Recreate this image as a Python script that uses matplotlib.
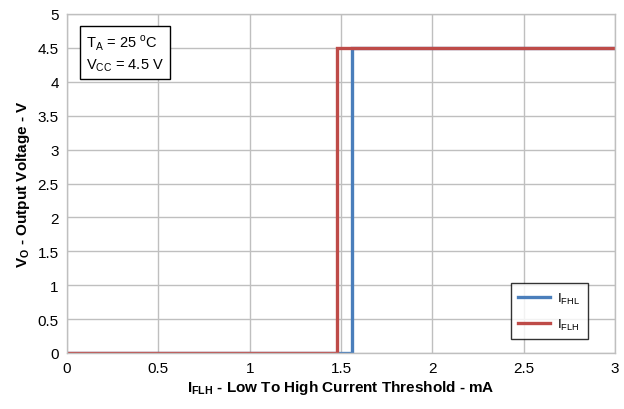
import matplotlib
matplotlib.use("Agg")
import matplotlib.pyplot as plt

# Data
fhl_x = [0, 1.56, 1.56, 3.0]
fhl_y = [0, 0, 4.5, 4.5]
flh_x = [0, 1.48, 1.48, 3.0]
flh_y = [0, 0, 4.5, 4.5]
xticks = [0, 0.5, 1, 1.5, 2, 2.5, 3]
xticklabels = ["0", "0.5", "1", "1.5", "2", "2.5", "3"]
yticks = [0, 0.5, 1, 1.5, 2, 2.5, 3, 3.5, 4, 4.5, 5]
yticklabels = ["0", "0.5", "1", "1.5", "2", "2.5", "3", "3.5", "4", "4.5", "5"]

plt.rcParams['font.family'] = ['Liberation Sans', 'DejaVu Sans']

fig = plt.figure(figsize=(6.24, 4.10), dpi=100)
ax = fig.add_axes([67/624, 1 - 354/410, (615-67)/624, (354-15)/410])

ax.plot(fhl_x, fhl_y, color='#4a7ebb', lw=2.4, label=r'I$_{\mathregular{FHL}}$', solid_joinstyle='miter')
ax.plot(flh_x, flh_y, color='#be4b48', lw=2.4, label=r'I$_{\mathregular{FLH}}$', solid_joinstyle='miter')

ax.set_xlim(0, 3)
ax.set_ylim(0, 5)
ax.set_xticks(xticks)
ax.set_xticklabels(xticklabels)
ax.set_yticks(yticks)
ax.set_yticklabels(yticklabels)
ax.tick_params(length=0, labelsize=11, pad=6)
ax.grid(True, color='#bfbfbf', lw=1)
ax.set_axisbelow(True)
for s in ax.spines.values():
    s.set_color('#bfbfbf')
    s.set_linewidth(1)

ax.set_xlabel(r'I$_{\mathregular{FLH}}$ - Low To High Current Threshold - mA', fontsize=11, fontweight='bold', labelpad=2)
ax.set_ylabel(r'V$_{\mathregular{O}}$ - Output Voltage - V', fontsize=11, fontweight='bold', labelpad=4)

ax.text(0.035, 0.945, 'T$_{\\mathregular{A}}$ = 25 $^{\\mathregular{o}}$C\nV$_{\\mathregular{CC}}$ = 4.5 V',
        transform=ax.transAxes, fontsize=10.5, va='top', ha='left', linespacing=1.35,
        bbox=dict(boxstyle='square,pad=0.4', fc='white', ec='black', lw=1))

leg = ax.legend(loc='lower right', bbox_to_anchor=(0.95, 0.04), fontsize=9.5, frameon=True,
                fancybox=False, edgecolor='black', handlelength=2.4, borderpad=0.6,
                labelspacing=0.8, handletextpad=0.5, borderaxespad=0)
leg.get_frame().set_linewidth(1)

fig.savefig('out.png', dpi=100)
